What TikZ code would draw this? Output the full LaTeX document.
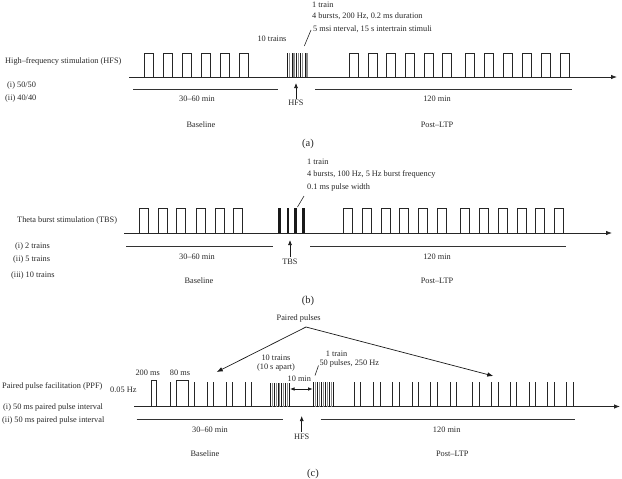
\documentclass[tikz,border=0pt]{standalone}
\usepackage{fontspec}
\setmainfont{Liberation Serif}
\usetikzlibrary{arrows.meta}
\begin{document}
\begin{tikzpicture}[x=1pt,y=-1pt,
  font=\fontsize{8.3}{10}\selectfont,
  lbl/.style={inner sep=0pt, text=black!85},
  lft/.style={lbl, anchor=west},
  panel/.style={lbl, font=\fontsize{10.5}{12}\selectfont},
  axis/.style={draw=black!85, line width=0.8pt, -{Latex[length=6pt,width=4.5pt]}},
  span/.style={draw=black!80, line width=0.7pt},
  pulse/.style={draw=black!85, line width=0.6pt},
  bar/.style={draw=black!90, line width=2.4pt},
  upar/.style={draw=black!90, line width=0.7pt, -{Latex[length=5pt,width=4pt]}},
  ptr/.style={draw=black!90, line width=0.7pt, -{Latex[length=6pt,width=4.5pt]}},
  dbl/.style={draw=black!90, line width=0.7pt, {Latex[length=4.5pt,width=3.5pt]}-{Latex[length=4.5pt,width=3.5pt]}},
  slash/.style={draw=black!85, line width=0.6pt},
  ]
\useasboundingbox (0,0) rectangle (622,479);

% ================= Panel (a) =================
\coordinate (a0) at (129,77);
\coordinate (a1) at (617,77);
\draw[axis] (a0) -- (a1);
\foreach \x in {144.3,163.3,182.3,201.3,220,239,349,368,386.3,405.3,424,442.7,465.7,484.3,503,522.3,541,560}
  \draw[pulse] (\x,77) |- ({\x+9},53) -- ({\x+9},77);
% HFS train
\foreach \i in {0,...,9}{
  \pgfmathtruncatemacro{\odd}{mod(\i,2)}
  \ifnum\odd=0
    \draw[draw=black!90, line width=0.5pt] ({287.5+2.17*\i},77) -- ({287.5+2.17*\i},53);
  \else
    \draw[draw=black!45, line width=1.2pt] ({287.5+2.17*\i},77) -- ({287.5+2.17*\i},53);
  \fi}
\coordinate (as0) at (304.3,46);
\coordinate (as1) at (311,30);
\draw[slash] (as0) -- (as1);
\coordinate (al0) at (133,89); \coordinate (al1) at (278,89);
\coordinate (al2) at (315,89); \coordinate (al3) at (572,89);
\draw[span] (al0) -- (al1);
\draw[span] (al2) -- (al3);
\node[lbl] (hfsA) at (296,103) {HFS};
\coordinate (hfsAtip) at (296,83);
\draw[upar] ([yshift=1.5pt]hfsA.north) -- (hfsAtip);
\node[lft] (a1t) at (312,4.5) {1 train};
\node[lft] (a2t) at (312,16.5) {4 bursts, 200 Hz, 0.2 ms duration};
\node[lft] (a3t) at (313,29) {5 msi nterval, 15 s intertrain stimuli};
\node[lbl] (a10) at (272,39) {10 trains};
\node[lft] (aL1) at (5,61) {High–frequency stimulation (HFS)};
\node[lft] (aL2) at (7,86) {(i) 50/50};
\node[lft] (aL3) at (5,99) {(ii) 40/40};
\node[lbl] (aB1) at (197,99) {30–60 min};
\node[lbl] (aP1) at (437,99) {120 min};
\node[lbl] (aB2) at (201,125) {Baseline};
\node[lbl] (aP2) at (437,125) {Post–LTP};
\node[panel] (aLab) at (308,144) {(a)};

% ================= Panel (b) =================
\coordinate (b0) at (124,233);
\coordinate (b1) at (612,233);
\draw[axis] (b0) -- (b1);
\foreach \x in {139.3,158.3,176.7,196,215,233.3,343.3,362.3,381,399.7,418.3,437.3,460.7,479.3,498,517,535.7,554.3}
  \draw[pulse] (\x,233) |- ({\x+8.8},208) -- ({\x+8.8},233);
\foreach \x in {279.5,287.8,295.6,303.5}
  \draw[bar] (\x,233) -- (\x,207.7);
\coordinate (bs0) at (297.5,207);
\coordinate (bs1) at (304,196);
\draw[slash] (bs0) -- (bs1);
\coordinate (bl0) at (126,246.7); \coordinate (bl1) at (272.7,246.7);
\coordinate (bl2) at (310,246.7); \coordinate (bl3) at (565.7,246.7);
\draw[span] (bl0) -- (bl1);
\draw[span] (bl2) -- (bl3);
\node[lbl] (tbs) at (290,261.7) {TBS};
\coordinate (tbstip) at (290,240);
\draw[upar] ([yshift=1.5pt]tbs.north) -- (tbstip);
\node[lft] (b1t) at (307,162) {1 train};
\node[lft] (b2t) at (307,174.7) {4 bursts, 100 Hz, 5 Hz burst frequency};
\node[lft] (b3t) at (307,188) {0.1 ms pulse width};
\node[lft] (bL1) at (17,221) {Theta burst stimulation (TBS)};
\node[lft] (bL2) at (15,246.7) {(i) 2 trains};
\node[lft] (bL3) at (13,260) {(ii) 5 trains};
\node[lft] (bL4) at (11,275.7) {(iii) 10 trains};
\node[lbl] (bB1) at (197,257) {30–60 min};
\node[lbl] (bP1) at (437,257) {120 min};
\node[lbl] (bB2) at (199,281) {Baseline};
\node[lbl] (bP2) at (437,281) {Post–LTP};
\node[panel] (bLab) at (308,300.7) {(b)};

% ================= Panel (c) =================
\coordinate (c0) at (134,406.5);
\coordinate (c1) at (620,406.5);
\draw[axis] (c0) -- (c1);
% baseline paired pulses
\draw[pulse] (151,406.5) |- (156.7,380.5) -- (156.7,406.5);
\draw[pulse] (176.7,406.5) |- (188.3,380.5) -- (188.3,406.5);
\foreach \x in {170.7,194.3,207.3,213.3,226.7,232.7,245.3,251.3}
  \draw[pulse] (\x,406.5) -- (\x,382);
% post paired pulses
\foreach \x in {354,373.5,392.7,412,430.7,450,472.5,491.5,510,529,547.7,566.7}{
  \draw[pulse] (\x,406.5) -- (\x,382);
  \draw[pulse] ({\x+6.5},406.5) -- ({\x+6.5},382);}
% 10 trains
\foreach \i in {0,...,10}{
  \pgfmathtruncatemacro{\odd}{mod(\i,2)}
  \ifnum\odd=0
    \draw[draw=black!90, line width=0.45pt] ({270.5+1.85*\i},406.5) -- ({270.5+1.85*\i},382.5);
  \else
    \draw[draw=black!45, line width=0.9pt] ({270.5+1.85*\i},406.5) -- ({270.5+1.85*\i},382.5);
  \fi}
% 1 train
\foreach \i in {0,...,10}{
  \pgfmathtruncatemacro{\odd}{mod(\i,2)}
  \ifnum\odd=0
    \draw[draw=black!90, line width=0.45pt] ({313.3+2*\i},406.5) -- ({313.3+2*\i},382.3);
  \else
    \draw[draw=black!45, line width=0.9pt] ({313.3+2*\i},406.5) -- ({313.3+2*\i},382.3);
  \fi}
\coordinate (tm0) at (290,389);
\coordinate (tm1) at (312.7,389);
\draw[dbl] (tm0) -- (tm1);
\node[lbl] (tmin) at (299.3,378.8) {10 min};
\coordinate (cs0) at (315,375.5);
\coordinate (cs1) at (318.5,365.5);
\draw[slash] (cs0) -- (cs1);
\node[lft] (c1t) at (325.7,354) {1 train};
\node[lft] (c2t) at (319.3,363.3) {50 pulses, 250 Hz};
\node[lbl] (c10) at (276,357.3) {10 trains};
\node[lbl] (c10b) at (276,367.7) {(10 s apart)};
\node[lbl] (hfsC) at (301.7,436.5) {HFS};
\coordinate (hfsCtip) at (301.7,416);
\draw[upar] ([yshift=1.5pt]hfsC.north) -- (hfsCtip);
\coordinate (cl0) at (136.7,419.5); \coordinate (cl1) at (282.7,419.5);
\coordinate (cl2) at (320.7,419.5); \coordinate (cl3) at (575.3,419.5);
\draw[span] (cl0) -- (cl1);
\draw[span] (cl2) -- (cl3);
\node[lbl] (pp) at (298.7,318.3) {Paired pulses};
\coordinate (apex) at (306,327);
\coordinate (ppL) at (216.7,372);
\coordinate (ppR) at (493.3,376);
\draw[ptr] (apex) -- (ppL);
\draw[ptr] (apex) -- (ppR);
\node[lbl] (ms200) at (147.7,372.7) {200 ms};
\node[lbl] (ms80) at (180,372.7) {80 ms};
\node[lft] (hz) at (110,389.3) {0.05 Hz};
\node[lft] (cL1) at (2,386) {Paired pulse facilitation (PPF)};
\node[lft] (cL2) at (3,407.3) {(i) 50 ms paired pulse interval};
\node[lft] (cL3) at (2,421) {(ii) 50 ms paired pulse interval};
\node[lbl] (cB1) at (210,429.3) {30–60 min};
\node[lbl] (cP1) at (446.7,429.3) {120 min};
\node[lbl] (cB2) at (205,454) {Baseline};
\node[lbl] (cP2) at (452.3,454) {Post–LTP};
\node[panel] (cLab) at (313,474) {(c)};
\end{tikzpicture}
\end{document}
